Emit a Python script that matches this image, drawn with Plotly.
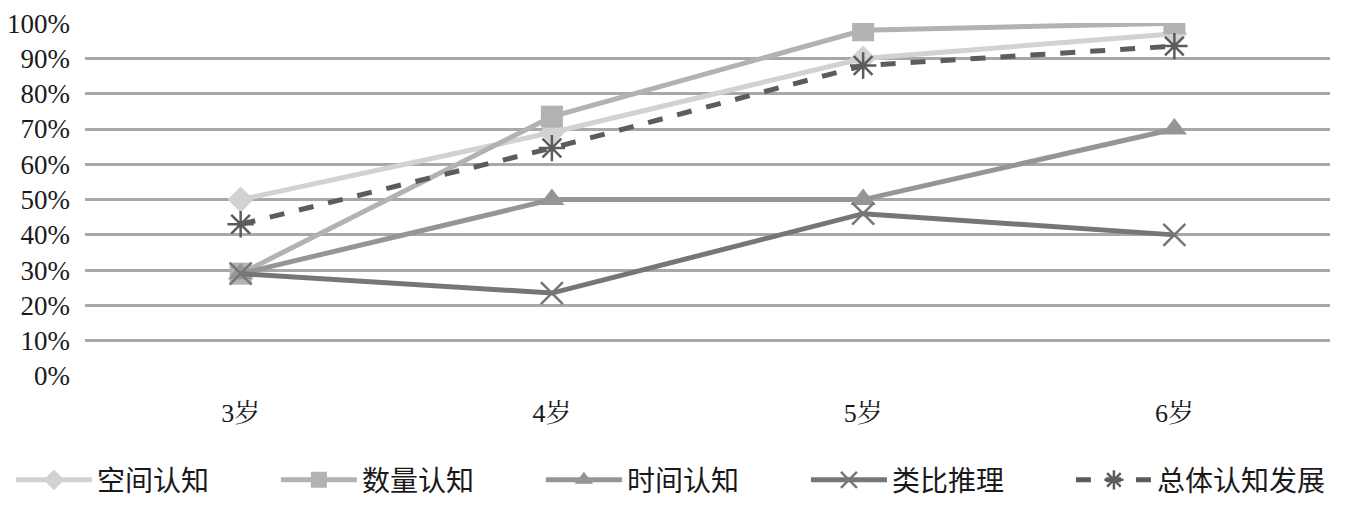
import plotly.graph_objects as go

categories = ["3岁", "4岁", "5岁", "6岁"]
series_names = ["空间认知", "数量认知", "时间认知", "类比推理", "总体认知发展"]
spatial = [0.50, 0.69, 0.90, 0.97]
quantity = [0.29, 0.735, 0.98, 1.00]
time_cog = [0.29, 0.50, 0.50, 0.70]
analogy = [0.29, 0.235, 0.46, 0.40]
overall = [0.43, 0.646, 0.88, 0.935]
y_ticks = [i / 10 for i in range(11)]
y_tick_labels = [f"{i * 10}%" for i in range(11)]

values = [spatial, quantity, time_cog, analogy, overall]
colors = ["#d2d2d2", "#b2b2b2", "#959595", "#767676", "#5c5c5c"]
symbols = ["diamond", "square", "triangle-up", "x-thin", "asterisk"]
sizes = [20, 22, 22, 22, 22]
dashes = ["solid", "solid", "solid", "solid", "dash"]

SERIF = "Liberation Serif, Times New Roman, Tinos, DejaVu Serif, serif"

fig = go.Figure()
for name, vals, c, s, sz, d in zip(series_names, values, colors, symbols, sizes, dashes):
    thin = s in ("x-thin", "asterisk")
    fig.add_trace(go.Scatter(
        x=categories, y=vals, name=name, mode="lines+markers",
        line=dict(color=c, width=5, dash=d),
        marker=dict(symbol=s, size=sz, color=c,
                    line=dict(color=c, width=2.5 if thin else 0)),
    ))

fig.update_layout(
    width=1356, height=521,
    paper_bgcolor="white", plot_bgcolor="white",
    margin=dict(l=77, r=34, t=15, b=153, autoexpand=False),
    font=dict(family=SERIF, size=27, color="#1a1a1a"),
    showlegend=True,
    legend=dict(orientation="h", x=-0.0595, xanchor="left", y=-0.295, yanchor="middle",
                font=dict(family="Noto Sans CJK SC", size=28, color="#1a1a1a"),
                entrywidth=174, entrywidthmode="pixels", itemwidth=76,
                bgcolor="rgba(0,0,0,0)"),
    xaxis=dict(type="category", range=[-0.5, 3.5], showgrid=False, showline=False, ticks="",
               tickfont=dict(family=SERIF + ", Noto Serif CJK SC, Noto Sans CJK SC", size=26),
               ticklabelstandoff=19),
    yaxis=dict(range=[0, 1.0005], tickvals=y_ticks, ticktext=y_tick_labels,
               showgrid=True, gridcolor="#a8a8a8", gridwidth=2.5, zeroline=False,
               tickfont=dict(family=SERIF, size=27), ticks="",
               ticklabelstandoff=14, ticklabeloverflow="allow"),
)

fig.write_html("out.html")
